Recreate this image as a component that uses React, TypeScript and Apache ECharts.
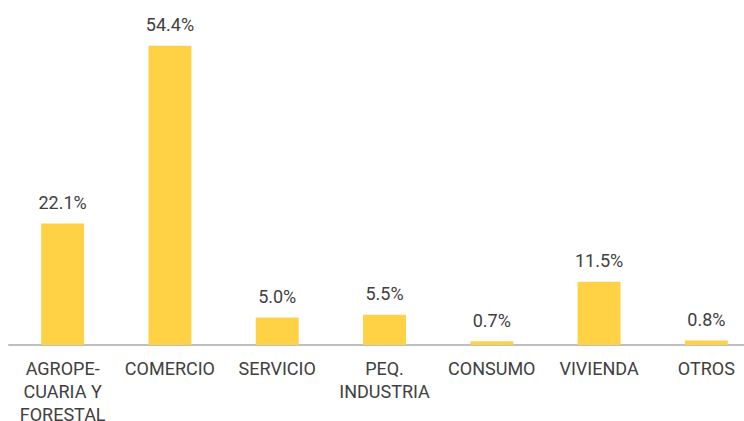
import React, { useEffect, useRef } from "react";
import * as echarts from "echarts";

const categories = [
  "AGROPE-\nCUARIA Y\nFORESTAL",
  "COMERCIO",
  "SERVICIO",
  "PEQ.\nINDUSTRIA",
  "CONSUMO",
  "VIVIENDA",
  "OTROS",
];
const values = [22.1, 54.4, 5.0, 5.5, 0.7, 11.5, 0.8];

export default function App() {
  const ref = useRef<HTMLDivElement>(null);
  useEffect(() => {
    document.body.style.margin = "0";
    document.documentElement.style.overflow = "hidden";
    document.body.style.overflow = "hidden";
    const chart = echarts.init(ref.current!, null, { renderer: "svg" });
    chart.setOption({
      animation: false,
      grid: {
        left: 9,
        top: 15,
        right: 0,
        height: 330,
        containLabel: false,
        outerBoundsMode: "none",
      },
      xAxis: {
        type: "category",
        data: categories,
        axisLine: { lineStyle: { color: "#BFBFBF", width: 2 } },
        axisTick: { show: false },
        axisLabel: {
          interval: 0,
          color: "#404040",
          fontFamily: "Roboto",
          fontSize: 18,
          lineHeight: 23,
          margin: 12,
        },
      },
      yAxis: {
        type: "value",
        min: 0,
        max: 60,
        show: false,
        splitLine: { show: false },
      },
      series: [
        {
          type: "bar",
          data: values,
          barWidth: "40%",
          itemStyle: { color: "#FFD246" },
          label: {
            show: true,
            position: "top",
            distance: 12,
            color: "#404040",
            fontFamily: "Roboto",
            fontSize: 18,
            formatter: (p: any) => p.value.toFixed(1) + "%",
          },
        },
      ],
    });
    return () => chart.dispose();
  }, []);
  return (
    <div style={{ width: 744, height: 421, overflow: "hidden", position: "relative" }}>
      <div ref={ref} style={{ width: 760, height: 421 }} />
    </div>
  );
}
